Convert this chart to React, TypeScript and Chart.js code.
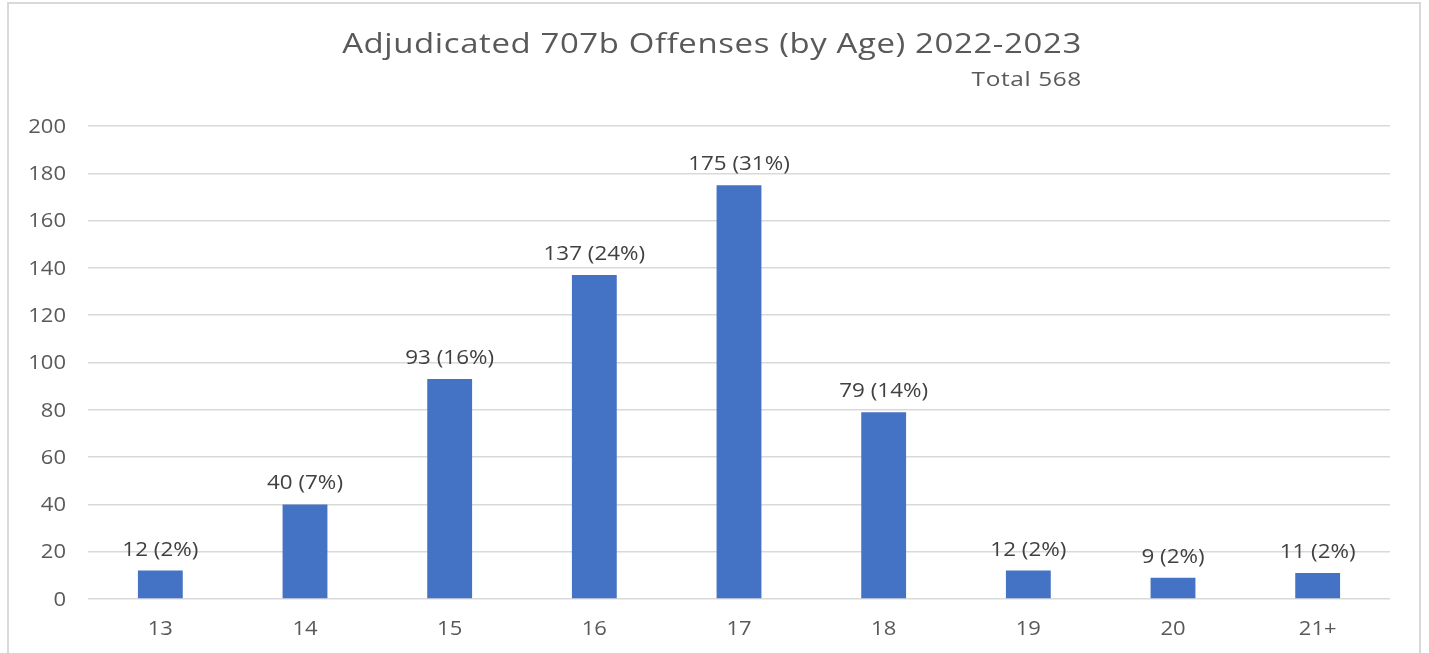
import React, { useEffect, useRef } from "react";
import { Chart, registerables } from "chart.js";

Chart.register(...registerables);

const TITLE = "Adjudicated 707b Offenses (by Age) 2022-2023";
const SUBTITLE = "Total 568";
const categories = ["13", "14", "15", "16", "17", "18", "19", "20", "21+"];
const counts = [12, 40, 93, 137, 175, 79, 12, 9, 11];
const percents = ["2%", "7%", "16%", "24%", "31%", "14%", "2%", "2%", "2%"];
const yTicks = [0, 20, 40, 60, 80, 100, 120, 140, 160, 180, 200];

const FONT = "'Open Sans', 'Noto Sans', sans-serif";

function drawText(
  ctx: CanvasRenderingContext2D,
  text: string,
  x: number,
  y: number,
  size: number,
  sx: number,
  align: CanvasTextAlign,
  baseline: CanvasTextBaseline,
  color: string,
  spacing = 0
) {
  ctx.save();
  ctx.translate(x, y);
  ctx.scale(sx, 1);
  ctx.font = `${size}px ${FONT}`;
  (ctx as any).letterSpacing = `${spacing}px`;
  ctx.fillStyle = color;
  ctx.textAlign = align;
  ctx.textBaseline = baseline;
  ctx.fillText(text, 0, 0);
  ctx.restore();
}

function measure(ctx: CanvasRenderingContext2D, text: string, size: number, sx: number, spacing = 0) {
  ctx.save();
  ctx.font = `${size}px ${FONT}`;
  (ctx as any).letterSpacing = `${spacing}px`;
  const w = ctx.measureText(text).width * sx;
  ctx.restore();
  return w;
}

const framePlugin = {
  id: "frame",
  beforeDraw(chart: any) {
    const { ctx, width } = chart;
    ctx.save();
    ctx.fillStyle = "#ffffff";
    ctx.fillRect(0, 0, width, chart.height);
    ctx.strokeStyle = "#d9d9d9";
    ctx.lineWidth = 2;
    ctx.strokeRect(8, 3, 1412, 700);
    ctx.restore();
  },
};

const textPlugin = {
  id: "texts",
  afterDatasetsDraw(chart: any) {
    const { ctx, chartArea } = chart;
    const xs = chart.scales.x;
    const ys = chart.scales.y;
    // title + subtitle
    const cx = 712;
    drawText(ctx, TITLE, cx, 53, 27, 1.22, "center", "alphabetic", "#595959", 0.5);
    const tw = measure(ctx, TITLE, 27, 1.22, 0.5);
    drawText(ctx, SUBTITLE, cx + tw / 2, 86, 20, 1.22, "right", "alphabetic", "#595959", 0.5);
    // y tick labels
    yTicks.forEach((v) => {
      drawText(ctx, String(v), chartArea.left - 22, ys.getPixelForValue(v) + 1, 20, 1.1, "right", "middle", "#595959");
    });
    // x tick labels
    categories.forEach((c, i) => {
      drawText(ctx, c, xs.getPixelForValue(i), 629, 20, 1.1, "center", "middle", "#595959");
    });
    // data labels
    const meta = chart.getDatasetMeta(0);
    meta.data.forEach((bar: any, i: number) => {
      drawText(ctx, `${counts[i]} (${percents[i]})`, bar.x, bar.y - 15, 20, 1.12, "center", "alphabetic", "#404040");
    });
  },
};

export default function App() {
  const ref = useRef<HTMLCanvasElement>(null);
  useEffect(() => {
    if (!ref.current) return;
    const chart = new Chart(ref.current, {
      type: "bar",
      data: {
        labels: categories,
        datasets: [
          {
            data: counts,
            backgroundColor: "#4472C4",
            barPercentage: 0.31,
            categoryPercentage: 1,
          },
        ],
      },
      options: {
        animation: false,
        responsive: false,
        maintainAspectRatio: false,
        layout: { padding: { top: 126, right: 39, bottom: 0, left: 0 } },
        plugins: { legend: { display: false }, tooltip: { enabled: false }, title: { display: false } },
        scales: {
          x: {
            grid: { display: false },
            border: { display: false },
            ticks: { display: false },
            afterFit(scale: any) {
              scale.height = 54;
            },
          },
          y: {
            min: 0,
            max: 200,
            afterBuildTicks(scale: any) {
              scale.ticks = yTicks.map((v) => ({ value: v }));
            },
            grid: { color: "#d9d9d9", lineWidth: 1.5, drawTicks: false },
            border: { display: false },
            ticks: { display: false },
            afterFit(scale: any) {
              scale.width = 88;
            },
          },
        },
      },
      plugins: [framePlugin, textPlugin],
    });
    return () => chart.destroy();
  }, []);
  return (
    <div style={{ position: "fixed", left: 0, top: 0, width: 1429, height: 653 }}>
      <canvas ref={ref} width={1429} height={653} style={{ width: 1429, height: 653 }} />
    </div>
  );
}
